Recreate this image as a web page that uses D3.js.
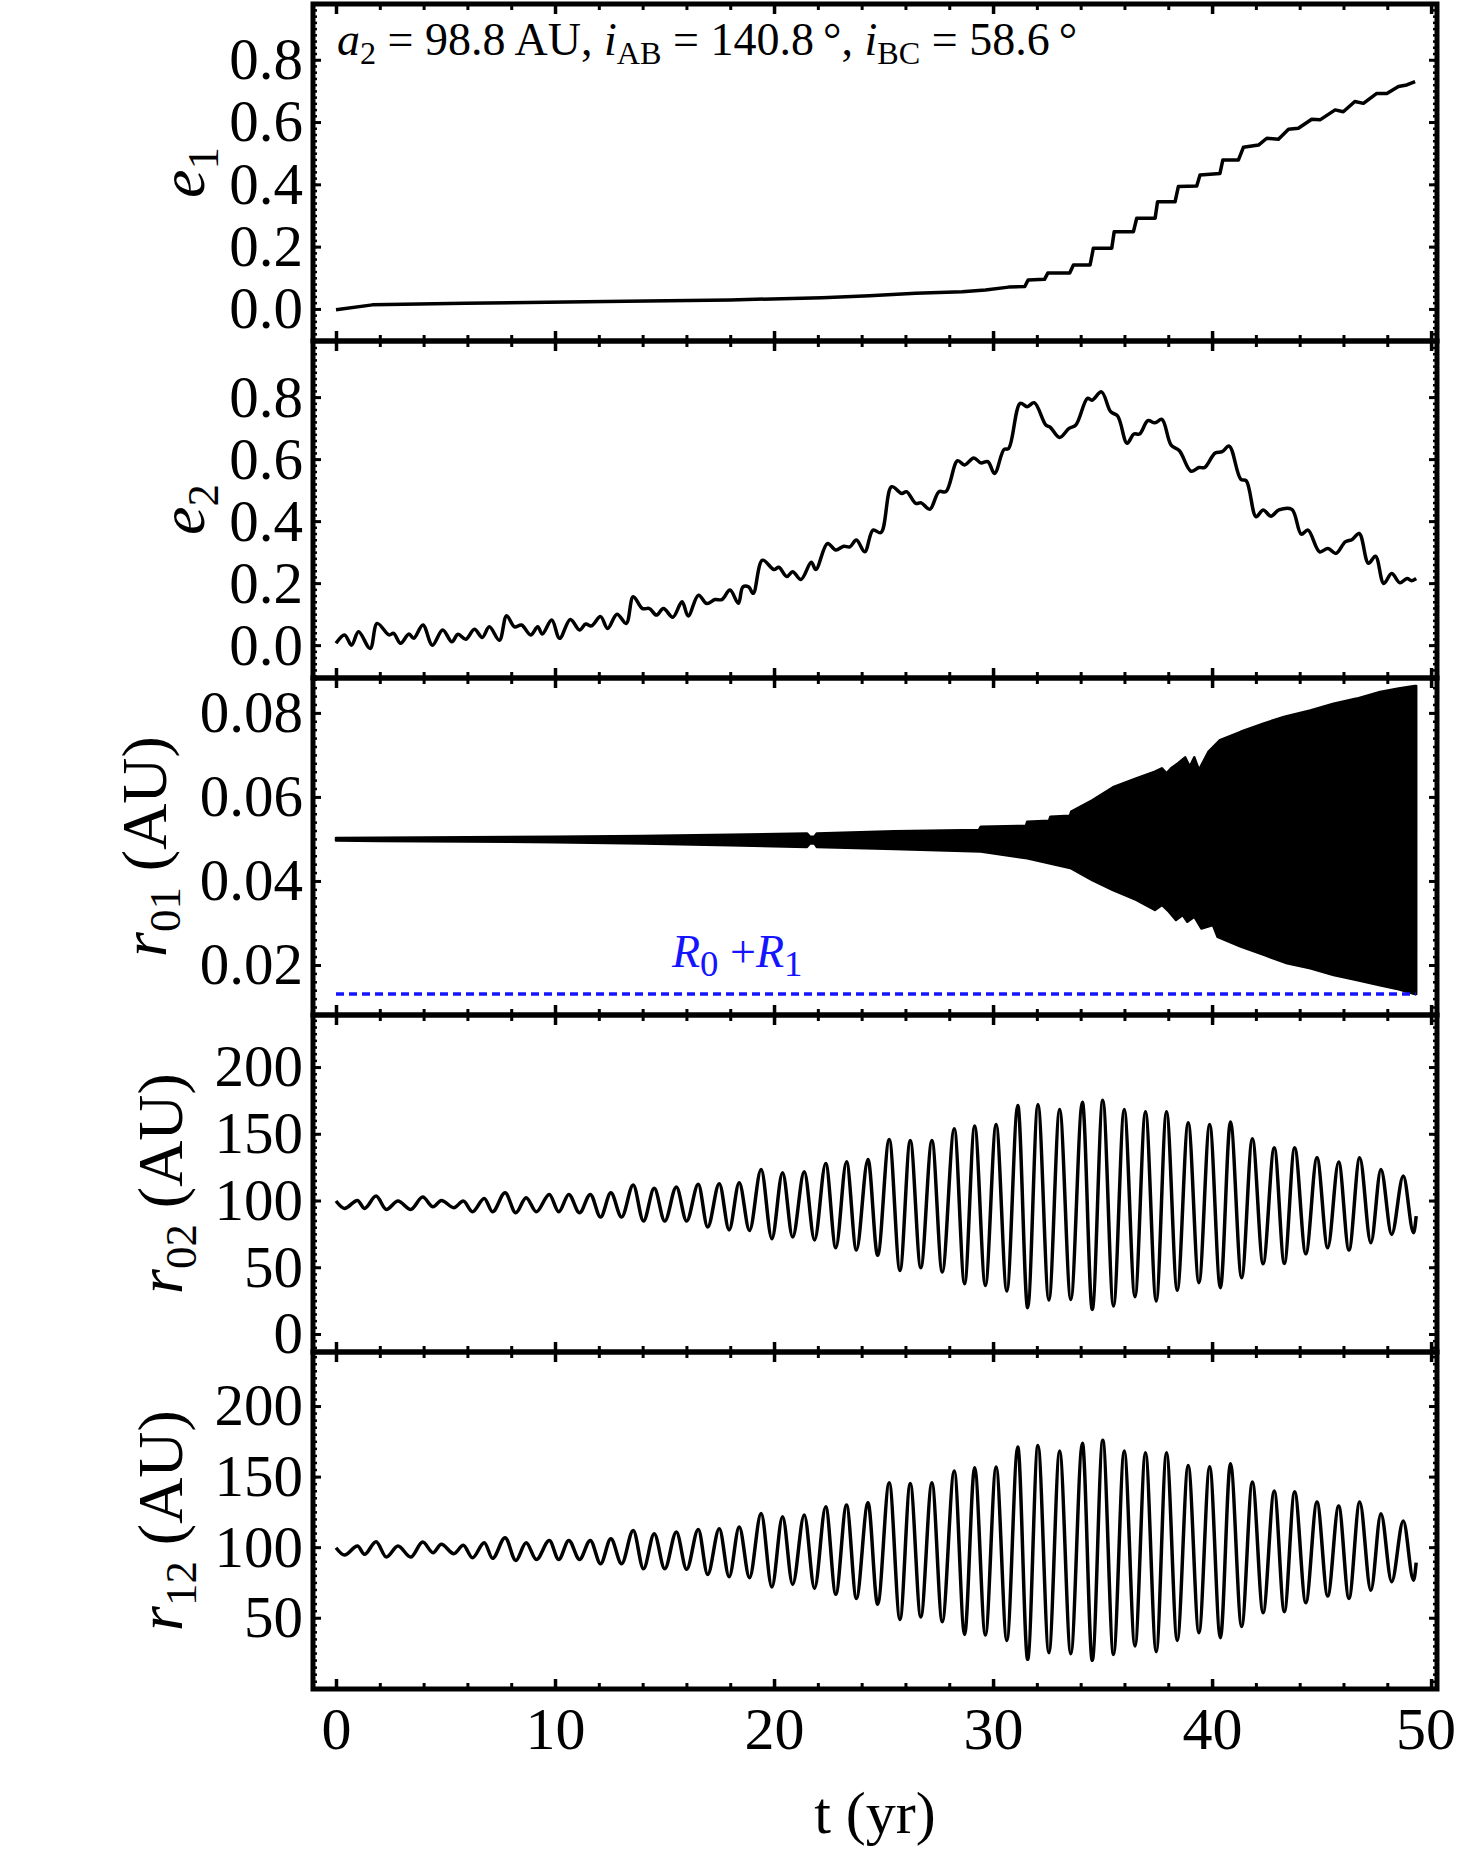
<!DOCTYPE html>
<html>
<head>
<meta charset="utf-8">
<script src="https://cdn.jsdelivr.net/npm/d3@7"></script>
<style>
body { margin: 0; background: #fff; }
svg { display: block; background: #fff; }
text { font-family: "Liberation Serif", "Times New Roman", serif; fill: #000; }
</style>
</head>
<body>
<svg id="chart" width="1458" height="1874"></svg>
<script>
// ---- data ----
var tTicks = [0, 10, 20, 30, 40, 50];
var eTicks = [0, 0.2, 0.4, 0.6, 0.8];
var r01Ticks = [0.02, 0.04, 0.06, 0.08];
var r02Ticks = [0, 50, 100, 150, 200];
var r12Ticks = [50, 100, 150, 200];

var e1T = [0, 1.66, 5.9, 12.3, 18.0, 22.2, 24.35, 26.47, 28.59, 29.65,
  30.71, 31.45, 31.6, 32.35, 32.5, 33.5, 33.67, 34.43, 34.58, 35.42,
  35.53, 36.41, 36.56, 37.40, 37.51, 38.31, 38.46, 39.30, 39.45, 40.36,
  40.49, 41.20, 41.43, 42.12, 42.50, 43.03, 43.49, 43.94, 44.55, 44.93,
  45.62, 45.99, 46.52, 46.91, 47.52, 47.98, 48.51, 48.89, 49.27];
var e1V = [-0.003, 0.013, 0.018, 0.024, 0.029, 0.036, 0.042, 0.050, 0.055, 0.061,
  0.070, 0.072, 0.093, 0.095, 0.115, 0.115, 0.141, 0.141, 0.195, 0.195,
  0.248, 0.248, 0.291, 0.291, 0.344, 0.344, 0.393, 0.395, 0.430, 0.435,
  0.478, 0.478, 0.519, 0.526, 0.548, 0.545, 0.577, 0.580, 0.609, 0.607,
  0.639, 0.633, 0.666, 0.660, 0.692, 0.692, 0.714, 0.719, 0.730];

var e2T = [0.0, 0.39, 0.71, 1.03, 1.56, 1.88, 2.42, 2.63, 2.95, 3.33,
  3.55, 3.97, 4.40, 4.87, 5.29, 5.57, 5.93, 6.32, 6.68, 7.00,
  7.46, 7.79, 8.15, 8.47, 8.89, 9.21, 9.42, 9.85, 10.21, 10.70,
  11.12, 11.40, 11.66, 12.08, 12.40, 12.83, 13.25, 13.57, 13.99, 14.31,
  14.63, 14.95, 15.38, 15.80, 16.08, 16.55, 16.93, 17.30, 17.62, 17.99,
  18.37, 18.58, 18.84, 19.05, 19.47, 20.0, 20.22, 20.58, 20.85, 21.23,
  21.70, 21.91, 22.44, 22.82, 23.18, 23.46, 23.76, 24.14, 24.52, 24.88,
  25.37, 25.83, 26.05, 26.47, 26.72, 27.11, 27.53, 27.85, 28.38, 28.70,
  29.12, 29.44, 29.76, 30.07, 30.50, 30.71, 31.24, 31.56, 31.88, 32.41,
  32.62, 33.04, 33.47, 33.78, 34.31, 34.52, 34.95, 35.37, 35.69, 36.12,
  36.43, 36.69, 37.07, 37.39, 37.71, 38.13, 38.51, 39.04, 39.40, 39.66,
  40.14, 40.46, 40.78, 41.31, 41.56, 42.01, 42.33, 42.69, 43.05, 43.64,
  44.07, 44.38, 44.91, 45.29, 45.66, 46.08, 46.40, 46.72, 47.14, 47.46,
  47.84, 48.20, 48.58, 48.90, 49.11, 49.32];
var e2V = [0.006, 0.033, 0.0, 0.043, -0.011, 0.070, 0.033, 0.038, 0.006, 0.036,
  0.022, 0.065, 0.0, 0.049, 0.011, 0.035, 0.019, 0.051, 0.025, 0.059,
  0.016, 0.095, 0.059, 0.065, 0.033, 0.059, 0.036, 0.081, 0.022, 0.083,
  0.049, 0.068, 0.062, 0.092, 0.054, 0.100, 0.070, 0.156, 0.118, 0.118,
  0.097, 0.118, 0.090, 0.140, 0.094, 0.161, 0.134, 0.147, 0.147, 0.178,
  0.135, 0.188, 0.188, 0.167, 0.274, 0.244, 0.251, 0.221, 0.237, 0.212,
  0.267, 0.244, 0.328, 0.307, 0.319, 0.317, 0.339, 0.301, 0.371, 0.363,
  0.511, 0.489, 0.495, 0.457, 0.459, 0.438, 0.495, 0.495, 0.595, 0.581,
  0.604, 0.588, 0.592, 0.554, 0.631, 0.634, 0.780, 0.769, 0.782, 0.710,
  0.702, 0.670, 0.699, 0.710, 0.796, 0.790, 0.817, 0.753, 0.739, 0.651,
  0.681, 0.681, 0.724, 0.717, 0.728, 0.645, 0.627, 0.561, 0.573, 0.573,
  0.620, 0.624, 0.642, 0.535, 0.530, 0.414, 0.436, 0.416, 0.436, 0.438,
  0.358, 0.371, 0.301, 0.312, 0.296, 0.333, 0.341, 0.360, 0.264, 0.287,
  0.199, 0.231, 0.201, 0.215, 0.208, 0.215];

// r01 oscillates too fast to resolve: upper and lower envelopes of the black band
var r01UpT = [0, 2, 6, 10, 14, 18, 21.5, 21.65, 21.85, 21.95, 25.5, 29.35, 29.44, 31.5, 31.56, 32.55, 32.62,
  33.5, 33.57, 34.53, 35.48, 36.54, 37.39, 37.71, 37.92, 38.13, 38.45, 38.77, 38.98,
  39.19, 39.40, 39.83, 40.36, 41.31, 42.37, 43.32, 44.49, 45.55, 46.61, 47.67, 48.52, 49.26, 49.32];
var r01UpV = [0.0502, 0.0503, 0.0504, 0.0505, 0.0507, 0.0510, 0.0513, 0.0505, 0.0506, 0.0513, 0.0518, 0.0521, 0.0529, 0.0531, 0.0541, 0.0543, 0.0553,
  0.0555, 0.0565, 0.0592, 0.0623, 0.0644, 0.0660, 0.0668, 0.0656, 0.0668, 0.0680, 0.0694, 0.0672,
  0.0694, 0.0664, 0.0707, 0.0735, 0.0755, 0.0775, 0.0791, 0.0806, 0.0822, 0.0834, 0.0850, 0.0858, 0.0864, 0.0864];
var r01LoT = [0, 2, 6, 10, 14, 18, 21.5, 21.65, 21.85, 21.95, 25.5, 29.44, 31.56, 33.57, 34.53, 35.48, 36.54,
  37.39, 37.71, 38.03, 38.35, 38.66, 38.87, 39.19, 39.51, 40.04, 40.25, 41.31, 42.37,
  43.43, 44.49, 45.55, 46.61, 47.67, 48.52, 49.26, 49.32];
var r01LoV = [0.0496, 0.0495, 0.0494, 0.0492, 0.0489, 0.0485, 0.0481, 0.0490, 0.0489, 0.0481, 0.0476, 0.0470, 0.0454, 0.0430, 0.0402, 0.0378, 0.0355,
  0.0331, 0.0343, 0.0327, 0.0307, 0.0319, 0.0303, 0.0315, 0.0287, 0.0295, 0.0267, 0.0244, 0.0224,
  0.0204, 0.0192, 0.0176, 0.0164, 0.0152, 0.0142, 0.0131, 0.0131];
var contactT = [0, 49.3];
var contactV = [0.0131, 0.0131];

// r02 and r12 turning points (shared times)
var rT = [0.0, 0.39, 0.98, 1.30, 1.83, 2.30, 2.83, 3.41, 3.96, 4.43,
  4.81, 5.38, 5.81, 6.23, 6.77, 7.15, 7.72, 8.21, 8.68, 9.15,
  9.74, 10.17, 10.63, 11.12, 11.61, 12.08, 12.55, 13.04, 13.57, 14.04,
  14.53, 15.01, 15.54, 16.01, 16.54, 16.97, 17.50, 17.95,
  18.41, 18.88, 19.41, 19.90, 20.39, 20.85, 21.38, 21.85, 22.36, 22.82,
  23.31, 23.76, 24.29, 24.73, 25.26, 25.75, 26.22, 26.70, 27.21, 27.68,
  28.23, 28.70, 29.16, 29.65, 30.14, 30.63, 31.13, 31.58, 32.05, 32.55,
  33.04, 33.55, 34.08, 34.53, 35.01, 35.50, 35.99, 36.48, 36.96, 37.45,
  37.92, 38.41, 38.91, 39.40, 39.89, 40.38, 40.84, 41.35, 41.84, 42.33,
  42.84, 43.30, 43.77, 44.28, 44.79, 45.28, 45.78, 46.25, 46.74, 47.25,
  47.71, 48.20, 48.73, 49.20, 49.32];
var r02V = [99.6, 94.1, 100.1, 94.1, 103.3, 93.3, 99.6, 93.3, 102.6, 95.3,
  100.1, 94.6, 99.6, 91.6, 101.6, 91.6, 105.8, 90.8, 102.1, 91.6,
  104.6, 91.6, 104.6, 90.8, 104.6, 87.6, 105.8, 87.6, 111.6, 84.6,
  109.1, 84.6, 110.1, 84.6, 112.1, 80.1, 112.6, 78.0,
  113.3, 77.6, 123.3, 71.4, 120.8, 72.6, 121.6, 70.4, 127.8, 64.6,
  129.0, 62.9, 130.8, 58.9, 145.8, 47.6, 145.0, 49.6, 145.0, 46.4,
  153.8, 37.6, 155.8, 36.4, 157.0, 32.2, 171.2, 19.7, 172.0, 25.4,
  168.2, 25.9, 173.7, 18.4, 175.2, 20.9, 168.2, 27.9, 166.5, 24.7,
  166.5, 32.7, 158.3, 38.4, 157.0, 34.7, 158.8, 42.1, 146.3, 52.6,
  139.5, 52.9, 139.5, 60.1, 132.0, 64.6, 128.8, 62.9, 132.0, 68.4,
  123.3, 74.6, 118.3, 75.9, 88.3];
var r12V = [99.6, 94.4, 100.8, 94.9, 103.9, 93.0, 100.8, 93.0, 103.6, 96.1,
  102.0, 95.4, 101.3, 92.5, 103.2, 92.1, 106.7, 90.6, 103.2, 91.3,
  104.8, 91.3, 104.8, 91.3, 104.8, 88.3, 106.0, 88.3, 111.9, 84.7,
  109.5, 84.7, 110.7, 84.3, 112.6, 80.7, 113.1, 79.0,
  114.3, 78.4, 123.9, 71.8, 121.6, 73.6, 122.8, 70.8, 128.7, 66.6,
  129.9, 63.7, 131.5, 59.5, 145.7, 48.8, 145.2, 50.5, 145.7, 47.2,
  153.9, 38.2, 156.3, 37.7, 156.8, 33.9, 170.9, 20.5, 172.1, 25.2,
  168.1, 24.5, 173.6, 19.8, 175.7, 24.0, 168.1, 29.9, 166.9, 25.9,
  166.9, 33.9, 157.9, 39.4, 157.0, 35.8, 159.1, 43.7, 146.2, 53.6,
  139.8, 54.3, 139.3, 60.6, 132.0, 65.4, 129.1, 63.7, 132.0, 69.4,
  123.7, 75.5, 118.5, 76.5, 89.0];

// ---- layout ----
var width = 1458;
var left = 313, right = 1437;
var panelTop = 4, panelH = 337;
var svg = d3.select("#chart");

var x = d3.scaleLinear().domain([-1.05, 50.27]).range([left, right]);

function minorValues(domain, step) {
    var lo = Math.ceil(domain[0] / step - 1e-9), hi = Math.floor(domain[1] / step + 1e-9);
    return d3.range(lo, hi + 1).map(function(i) { return +(i * step).toFixed(6); });
}

var panels = [
    {domain: [-0.103, 0.979], ticks: eTicks, minor: 0.02, fmt: d3.format(".1f"), label: [["e", "i"], ["1", "sub"]], labelX: 204},
    {domain: [-0.106, 0.981], ticks: eTicks, minor: 0.02, fmt: d3.format(".1f"), label: [["e", "i"], ["2", "sub"]], labelX: 204},
    {domain: [0.0081, 0.0883], ticks: r01Ticks, minor: 0.002, fmt: d3.format(".2f"), label: [["r", "i"], ["01", "sub"], [" (AU)", ""]], labelX: 166},
    {domain: [-13.5, 239], ticks: r02Ticks, minor: 5, fmt: d3.format("d"), label: [["r", "i"], ["02", "sub"], [" (AU)", ""]], labelX: 182},
    {domain: [-0.5, 238.3], ticks: r12Ticks, minor: 5, fmt: d3.format("d"), label: [["r", "i"], ["12", "sub"], [" (AU)", ""]], labelX: 182}
];

function styleTicks(g, w) {
    g.select(".domain").remove();
    g.selectAll(".tick line").attr("stroke", "#000").attr("stroke-width", w);
    g.selectAll(".tick text").attr("font-family", "Liberation Serif, Times New Roman, serif")
        .attr("font-size", 59).attr("fill", "#000");
}

function addRichText(sel, parts, size, subShift, subScale) {
    var inSub = false;
    parts.forEach(function(p) {
        var t = sel.append("tspan").text(p[0]);
        if (p[1] == "i") t.attr("font-style", "italic");
        if (p[1] == "sub") t.attr("font-size", size * (subScale || 0.7)).attr("dy", subShift);
        else if (inSub) t.attr("dy", -subShift);
        inSub = p[1] == "sub";
    });
}

panels.forEach(function(p, i) {
    var top = panelTop + i * panelH, bottom = top + panelH;
    p.y = d3.scaleLinear().domain(p.domain).range([bottom, top]);
    var g = svg.append("g");

    var minor = minorValues(p.domain, p.minor);
    var xMinor = minorValues(x.domain(), 2);

    // y ticks, pointing inward
    g.append("g").attr("transform", "translate(" + left + ",0)")
        .call(d3.axisLeft(p.y).tickValues(minor).tickSize(-4).tickFormat(""))
        .call(styleTicks, 2.5);
    g.append("g").attr("transform", "translate(" + right + ",0)")
        .call(d3.axisRight(p.y).tickValues(minor).tickSize(-4).tickFormat(""))
        .call(styleTicks, 2.5);
    g.append("g").attr("transform", "translate(" + left + ",0)")
        .call(d3.axisLeft(p.y).tickValues(p.ticks).tickSize(-8).tickPadding(10).tickFormat(p.fmt))
        .call(styleTicks, 3);
    g.append("g").attr("transform", "translate(" + right + ",0)")
        .call(d3.axisRight(p.y).tickValues(p.ticks).tickSize(-8).tickFormat(""))
        .call(styleTicks, 3);

    // x ticks top and bottom, pointing inward
    g.append("g").attr("transform", "translate(0," + top + ")")
        .call(d3.axisTop(x).tickValues(xMinor).tickSize(-6).tickFormat(""))
        .call(styleTicks, 3);
    g.append("g").attr("transform", "translate(0," + top + ")")
        .call(d3.axisTop(x).tickValues(tTicks).tickSize(-10).tickFormat(""))
        .call(styleTicks, 3.5);
    g.append("g").attr("transform", "translate(0," + bottom + ")")
        .call(d3.axisBottom(x).tickValues(xMinor).tickSize(-6).tickFormat(""))
        .call(styleTicks, 3);
    var bottomAxis = g.append("g").attr("transform", "translate(0," + bottom + ")")
        .call(d3.axisBottom(x).tickValues(tTicks).tickSize(-10).tickPadding(17)
            .tickFormat(i == panels.length - 1 ? d3.format("d") : ""))
        .call(styleTicks, 3.5);
    bottomAxis.selectAll(".tick text").attr("font-size", 60);

    g.append("rect")
        .attr("x", left).attr("y", top)
        .attr("width", right - left).attr("height", panelH)
        .attr("fill", "none").attr("stroke", "#000").attr("stroke-width", 5);

    svg.append("clipPath").attr("id", "clip" + i)
        .append("rect").attr("x", left).attr("y", top).attr("width", right - left).attr("height", panelH);
    p.plot = svg.append("g").attr("clip-path", "url(#clip" + i + ")");
    p.bottomAxis = bottomAxis;

    var lab = svg.append("text")
        .attr("transform", "translate(" + p.labelX + "," + ((top + bottom) / 2) + ") rotate(-90)")
        .attr("text-anchor", "middle")
        .attr("font-size", 64);
    addRichText(lab, p.label, 64, 14);
});

// keep the last x tick label inside the page
panels[panels.length - 1].bottomAxis.selectAll(".tick text").each(function() {
    var b = this.getBBox();
    var t = this.parentNode.getAttribute("transform");
    var tx = +t.match(/translate\(([-\d.]+)/)[1];
    if (tx + b.x + b.width > width - 2) d3.select(this).attr("dx", (width - 2) - (tx + b.x + b.width));
});

function lineOf(scaleY, curve) {
    return d3.line().x(function(d) { return x(d[0]); }).y(function(d) { return scaleY(d[1]); }).curve(curve);
}

// e1
panels[0].plot.append("path")
    .attr("d", lineOf(panels[0].y, d3.curveLinear)(d3.zip(e1T, e1V)))
    .attr("fill", "none").attr("stroke", "#000").attr("stroke-width", 3.5).attr("stroke-linejoin", "round");

// e2
panels[1].plot.append("path")
    .attr("d", lineOf(panels[1].y, d3.curveCatmullRom.alpha(0.5))(d3.zip(e2T, e2V)))
    .attr("fill", "none").attr("stroke", "#000").attr("stroke-width", 3.5).attr("stroke-linejoin", "round");

// r01 band
var band = d3.zip(r01UpT, r01UpV).concat(d3.zip(r01LoT, r01LoV).reverse());
panels[2].plot.append("path")
    .attr("d", lineOf(panels[2].y, d3.curveLinearClosed)(band))
    .attr("fill", "#000").attr("stroke", "#000").attr("stroke-width", 2.5).attr("stroke-linejoin", "round");
panels[2].plot.append("path")
    .attr("d", lineOf(panels[2].y, d3.curveLinear)(d3.zip(contactT, contactV)))
    .attr("fill", "none").attr("stroke", "#1414ff").attr("stroke-width", 3.5).attr("stroke-dasharray", "8,5");

var rLabel = svg.append("text")
    .attr("x", 672).attr("y", 967)
    .attr("font-family", "Noto Sans, DejaVu Sans, sans-serif")
    .attr("font-size", 46).style("fill", "#1414ff");
addRichText(rLabel, [["R", "i"], ["0", "sub"], [" +", ""], ["R", "i"], ["1", "sub"]], 46, 9, 0.8);

// r02, r12
panels[3].plot.append("path")
    .attr("d", lineOf(panels[3].y, d3.curveMonotoneX)(d3.zip(rT, r02V)))
    .attr("fill", "none").attr("stroke", "#000").attr("stroke-width", 3.5);
panels[4].plot.append("path")
    .attr("d", lineOf(panels[4].y, d3.curveMonotoneX)(d3.zip(rT, r12V)))
    .attr("fill", "none").attr("stroke", "#000").attr("stroke-width", 3.5);

// annotation in the top panel
var note = svg.append("text").attr("x", 337).attr("y", 55).attr("font-size", 46);
addRichText(note, [["a", "i"], ["2", "sub"], [" = 98.8 AU, ", ""], ["i", "i"], ["AB", "sub"],
    [" = 140.8\u2009°, ", ""], ["i", "i"], ["BC", "sub"], [" = 58.6\u2009°", ""]], 46, 9);

// x axis title
svg.append("text")
    .attr("x", (left + right) / 2).attr("y", 1833)
    .attr("text-anchor", "middle").attr("font-size", 60)
    .text("t (yr)");
</script>
</body>
</html>
